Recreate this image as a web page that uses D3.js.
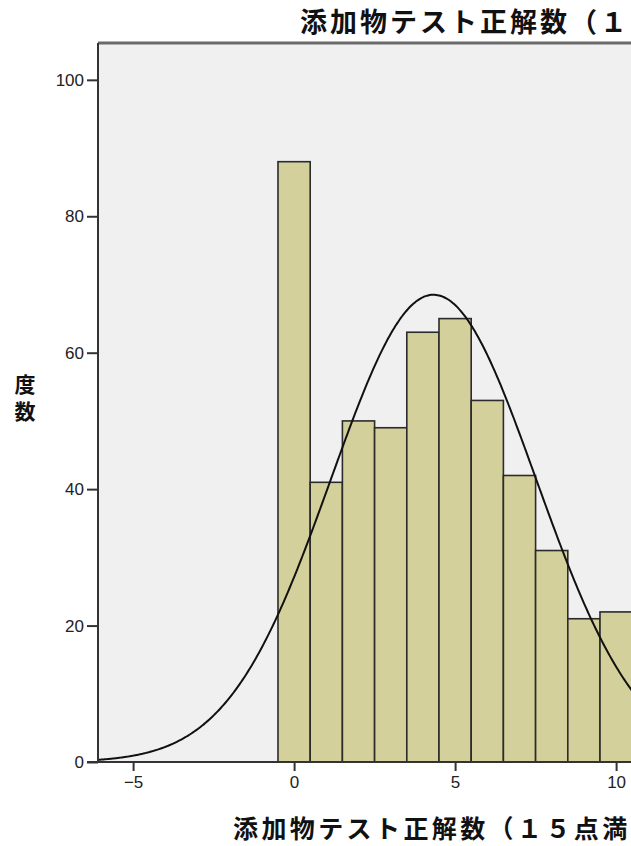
<!DOCTYPE html>
<html>
<head>
<meta charset="utf-8">
<script src="https://cdn.jsdelivr.net/npm/d3@7"></script>
<style>
  html, body { margin: 0; padding: 0; background: #ffffff; overflow: hidden; }
  svg { display: block; }
</style>
</head>
<body>
<svg id="chart" width="631" height="846"></svg>
<script>
// Histogram of correct answers on the additive test, with fitted normal curve
const binCenters = [0, 1, 2, 3, 4, 5, 6, 7, 8, 9, 10];
const counts = [88, 41, 50, 49, 63, 65, 53, 42, 31, 21, 22];
const yTicks = [0, 20, 40, 60, 80, 100];
const xTicks = [-5, 0, 5, 10];
const binWidth = 1;
// Normal curve parameters (mean, standard deviation, total N)
const curveMean = 4.33;
const curveSD = 3.18;
const curveN = 546;

const titleText = "添加物テスト正解数（１";
const xLabelText = "添加物テスト正解数（１５点満";
const yLabelText = "度数";

const svg = d3.select("#chart");
const jpFont = "'Noto Sans CJK JP', 'Noto Sans CJK SC', sans-serif";
const numFont = "'Liberation Sans', Arial, sans-serif";

const plot = { left: 98, top: 43, bottom: 762, right: 98 + 22.2 * 32.2 };

const x = d3.scaleLinear().domain([-6.09, 16.11]).range([plot.left, plot.right]);
const y = d3.scaleLinear().domain([0, 105.4]).range([plot.bottom, plot.top]);

// plot background
svg.append("rect")
  .attr("x", plot.left).attr("y", plot.top)
  .attr("width", plot.right - plot.left).attr("height", plot.bottom - plot.top)
  .attr("fill", "#f0f0f0");

svg.append("clipPath").attr("id", "plotClip")
  .append("rect")
  .attr("x", plot.left).attr("y", plot.top)
  .attr("width", plot.right - plot.left).attr("height", plot.bottom - plot.top);

const g = svg.append("g").attr("clip-path", "url(#plotClip)");

// bars
g.selectAll("rect.bar")
  .data(binCenters.map((c, i) => ({ c, v: counts[i] })))
  .join("rect")
  .attr("class", "bar")
  .attr("x", d => x(d.c - binWidth / 2))
  .attr("y", d => y(d.v))
  .attr("width", d => x(d.c + binWidth / 2) - x(d.c - binWidth / 2))
  .attr("height", d => y(0) - y(d.v))
  .attr("fill", "#d4d09b")
  .attr("stroke", "#2b2b2b")
  .attr("stroke-width", 1.6);

// normal curve
const dens = v => curveN * binWidth / (curveSD * Math.sqrt(2 * Math.PI)) *
  Math.exp(-((v - curveMean) ** 2) / (2 * curveSD * curveSD));
const curvePts = d3.range(x.domain()[0], x.domain()[1], 0.05).map(v => [v, dens(v)]);
g.append("path")
  .datum(curvePts)
  .attr("fill", "none")
  .attr("stroke", "#111")
  .attr("stroke-width", 2)
  .attr("d", d3.line().x(d => x(d[0])).y(d => y(d[1])).curve(d3.curveBasis));

// frame
svg.append("line")
  .attr("x1", plot.left).attr("x2", 640)
  .attr("y1", plot.top).attr("y2", plot.top)
  .attr("stroke", "#6a6a6a").attr("stroke-width", 3);

// y axis
const yAxis = svg.append("g")
  .attr("transform", `translate(${plot.left},0)`)
  .call(d3.axisLeft(y).tickValues(yTicks).tickSize(11).tickPadding(3).tickSizeOuter(0));
yAxis.select(".domain").attr("stroke", "#333").attr("stroke-width", 2)
  .attr("d", `M0,${plot.top}V${plot.bottom}`);
yAxis.selectAll(".tick line").attr("stroke", "#333").attr("stroke-width", 2);
yAxis.selectAll(".tick text")
  .attr("font-family", numFont).attr("font-size", 17).attr("fill", "#222");

// x axis
const xAxis = svg.append("g")
  .attr("transform", `translate(0,${plot.bottom})`)
  .call(d3.axisBottom(x).tickValues(xTicks).tickSize(9).tickPadding(5).tickSizeOuter(0));
xAxis.select(".domain").attr("stroke", "#333").attr("stroke-width", 2)
  .attr("d", `M${plot.left - 11},0H640`);
xAxis.selectAll(".tick line").attr("stroke", "#333").attr("stroke-width", 2);
xAxis.selectAll(".tick text")
  .attr("font-family", numFont).attr("font-size", 17).attr("fill", "#222");

// title
svg.append("text")
  .attr("x", 300).attr("y", 32)
  .attr("font-family", jpFont).attr("font-size", 27).attr("font-weight", "bold")
  .attr("letter-spacing", 3)
  .attr("fill", "#111")
  .text(titleText);

// x axis label
svg.append("text")
  .attr("x", 233).attr("y", 838)
  .attr("font-family", jpFont).attr("font-size", 25).attr("font-weight", "bold")
  .attr("letter-spacing", 3.4)
  .attr("fill", "#111")
  .text(xLabelText);

// y axis label, set vertically
svg.append("text")
  .attr("x", 25).attr("y", 374)
  .attr("font-family", jpFont).attr("font-size", 21).attr("font-weight", "bold")
  .attr("letter-spacing", 6)
  .style("writing-mode", "vertical-rl")
  .attr("fill", "#111")
  .text(yLabelText);
</script>
</body>
</html>
